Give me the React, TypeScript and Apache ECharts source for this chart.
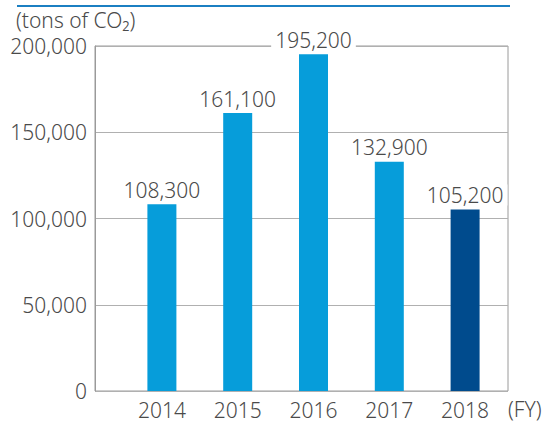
import React, { useEffect, useRef } from "react";
import * as echarts from "echarts";

const categories = ["2014", "2015", "2016", "2017", "2018"];
const values = [108300, 161100, 195200, 132900, 105200];
const barColors = ["#069dda", "#069dda", "#069dda", "#069dda", "#004b8d"];
const yTicks = { min: 0, max: 200000, interval: 50000 };

const FONT = "'Noto Sans', sans-serif";
const TEXT = "#4a4a4a";
const FS = 21;

export default function App() {
  const ref = useRef<HTMLDivElement>(null);
  useEffect(() => {
    document.body.style.margin = "0";
    const chart = echarts.init(ref.current!, null, { renderer: "svg" });
    chart.setOption({
      animation: false,
      textStyle: { fontFamily: FONT },
      grid: [
        { left: 95, right: 40, top: 46, bottom: 32, show: true, borderColor: "#9a9a9a", borderWidth: 1 },
        { left: 124, right: 45, top: 46, bottom: 32 },
      ],
      xAxis: [
        { gridIndex: 0, type: "category", data: [""], show: false },
        {
          gridIndex: 1,
          type: "category",
          data: categories,
          axisLine: { show: false },
          axisTick: { show: false },
          axisLabel: { color: TEXT, fontSize: FS, margin: 8, fontFamily: FONT, fontWeight: 300 },
        },
      ],
      yAxis: [
        {
          gridIndex: 0,
          type: "value",
          min: yTicks.min,
          max: yTicks.max,
          interval: yTicks.interval,
          axisLine: { show: true, lineStyle: { color: "#9a9a9a" } },
          axisTick: { show: false },
          splitLine: { lineStyle: { color: "#b0b0b0" } },
          axisLabel: {
            color: TEXT,
            fontSize: FS,
            margin: 8,
            fontFamily: FONT,
            fontWeight: 300,
            formatter: (v: number) => v.toLocaleString("en-US"),
          },
        },
        { gridIndex: 1, type: "value", min: yTicks.min, max: yTicks.max, show: false },
      ],
      series: [
        {
          type: "bar",
          xAxisIndex: 1,
          yAxisIndex: 1,
          barWidth: 29,
          data: values.map((v, i) => ({ value: v, itemStyle: { color: barColors[i] } })),
          label: {
            show: true,
            position: "top",
            distance: 4,
            color: TEXT,
            fontSize: FS,
            fontFamily: FONT,
            fontWeight: 300,
            backgroundColor: "#fff",
            padding: [0, 4],
            formatter: (p: any) => Number(p.value).toLocaleString("en-US"),
          },
        },
      ],
      graphic: [
        { type: "line", shape: { x1: 17, y1: 6, x2: 510, y2: 6 }, style: { stroke: "#1b7fc2", lineWidth: 2 } },
        { type: "text", left: 16, top: 9, style: { text: "(tons of CO₂)", fill: TEXT, font: `300 ${FS}px ${FONT}` } },
        { type: "text", left: 508, top: 398, style: { text: "(FY)", fill: TEXT, font: `300 ${FS}px ${FONT}` } },
      ],
    });
    return () => chart.dispose();
  }, []);
  return <div ref={ref} style={{ width: 548, height: 423 }} />;
}
